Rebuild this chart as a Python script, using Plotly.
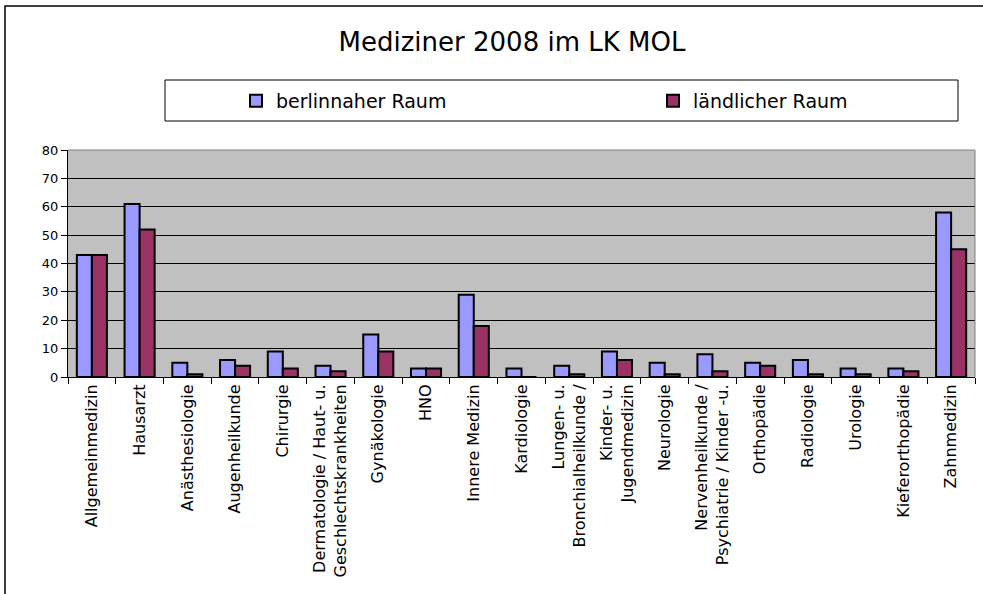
import plotly.graph_objects as go

# Kategorien (Fachrichtungen)
categories = [
    'Allgemeinmedizin',
    'Hausarzt',
    'Anästhesiologie',
    'Augenheilkunde',
    'Chirurgie',
    'Dermatologie / Haut- u.<br>Geschlechtskrankheiten',
    'Gynäkologie',
    'HNO',
    'Innere Medizin',
    'Kardiologie',
    'Lungen- u.<br>Bronchialheilkunde /',
    'Kinder- u.<br>Jugendmedizin',
    'Neurologie',
    'Nervenheilkunde /<br>Psychiatrie / Kinder -u.',
    'Orthopädie',
    'Radiologie',
    'Urologie',
    'Kieferorthopädie',
    'Zahnmedizin',
]

berlinnah = [43, 61, 5, 6, 9, 4, 15, 3, 29, 3, 4, 9, 5, 8, 5, 6, 3, 3, 58]
laendlich = [43, 52, 1, 4, 3, 2, 9, 3, 18, 0, 1, 6, 1, 2, 4, 1, 1, 2, 45]

y_ticks = [0, 10, 20, 30, 40, 50, 60, 70]

W, H = 983, 594
L, R, T, B = 68, 8, 150, 217
PW = W - L - R
PH = H - T - B


def px_x(p):
    return (p - L) / PW


def px_y(p):
    return (H - B - p) / PH


fig = go.Figure()

fig.add_trace(go.Bar(
    x=categories,
    y=berlinnah,
    name='berlinnaher Raum',
    legend='legend',
    showlegend=True,
    marker=dict(color='#9999FF', line=dict(color='black', width=2)),
))
fig.add_trace(go.Bar(
    x=categories,
    y=laendlich,
    name='ländlicher Raum',
    legend='legend2',
    showlegend=True,
    marker=dict(color='#993366', line=dict(color='black', width=2)),
))

legend_font = dict(family='DejaVu Sans', size=19, color='black')

fig.update_layout(
    width=W,
    height=H,
    margin=dict(l=L, r=R, t=T, b=B),
    paper_bgcolor='white',
    plot_bgcolor='#C0C0C0',
    barmode='group',
    bargap=0.37,
    bargroupgap=0,
    showlegend=True,
    font=dict(family='DejaVu Sans', size=13, color='black'),
    title=dict(
        text='Mediziner 2008 im LK MOL',
        x=px_x(512), xref='paper', xanchor='center',
        y=1 - 42 / H, yanchor='middle',
        font=dict(family='DejaVu Sans', size=26, color='black'),
    ),
    legend=dict(
        visible=True,
        x=px_x(236), xanchor='left',
        y=px_y(101), yanchor='middle',
        font=legend_font,
        bgcolor='rgba(0,0,0,0)',
        itemwidth=30,
    ),
    legend2=dict(
        visible=True,
        x=px_x(653), xanchor='left',
        y=px_y(101), yanchor='middle',
        font=legend_font,
        bgcolor='rgba(0,0,0,0)',
        itemwidth=30,
    ),
    shapes=[
        # Rahmen um das gesamte Diagramm
        dict(type='rect', xref='paper', yref='paper',
             x0=px_x(5), x1=px_x(995), y0=px_y(610), y1=px_y(6),
             line=dict(color='black', width=1.5), layer='below'),
        # Rahmen der Legende
        dict(type='rect', xref='paper', yref='paper',
             x0=px_x(165), x1=px_x(958), y0=px_y(121), y1=px_y(80),
             line=dict(color='black', width=1), layer='below'),
        # grauer Rahmen oben/rechts um die Zeichenfläche
        dict(type='path', xref='paper', yref='paper',
             path='M 0 1 L 1 1 L 1 0',
             line=dict(color='#808080', width=1), layer='above'),
    ],
)

fig.update_xaxes(
    type='category',
    tickangle=-90,
    tickson='boundaries',
    ticks='outside',
    ticklen=6,
    tickcolor='black',
    showline=True,
    linecolor='black',
    showgrid=False,
    tickfont=dict(family='DejaVu Sans', size=16),
)
fig.update_yaxes(
    range=[0, 80],
    tickvals=y_ticks + [80],
    ticks='outside',
    ticklen=6,
    tickcolor='black',
    showline=True,
    linecolor='black',
    gridcolor='black',
    gridwidth=1,
    zeroline=False,
    tickfont=dict(family='DejaVu Sans', size=13),
)

fig.write_html(
    'out.html',
    config={'displayModeBar': False},
    post_script="document.body.style.margin='0';",
)
